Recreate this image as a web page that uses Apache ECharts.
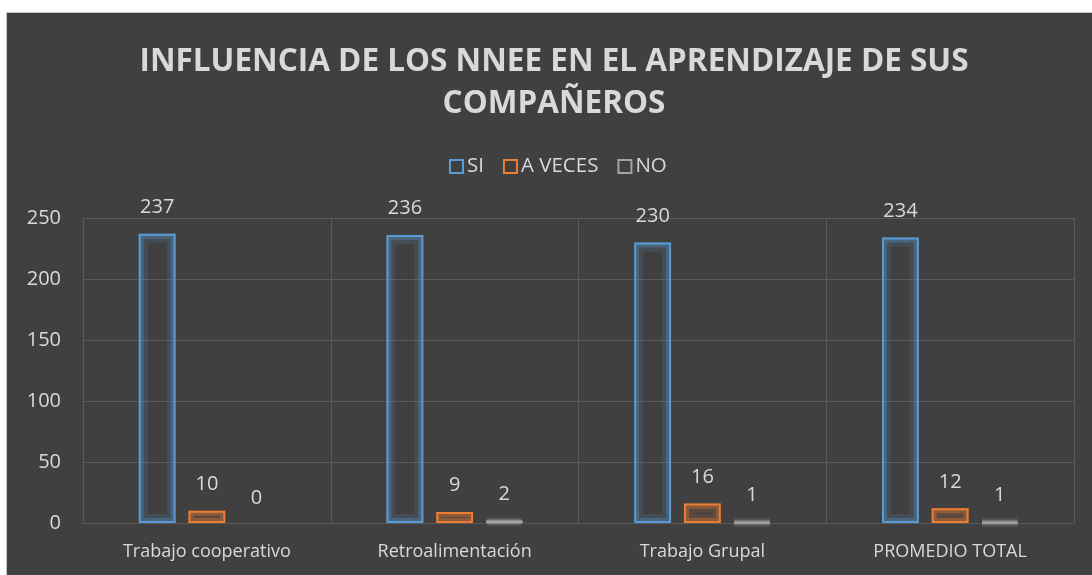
<!DOCTYPE html>
<html>
<head>
<meta charset="utf-8">
<script src="https://cdn.jsdelivr.net/npm/echarts@6/dist/echarts.min.js"></script>
<style>
  body { margin: 0; background: #fff; width: 1092px; height: 575px; overflow: hidden; }
  #frame { position: absolute; left: 6px; top: 12px; width: 1086px; height: 563px; background: #404040; border-left: 1px solid #c8c8c8; border-top: 1px solid #c8c8c8; box-sizing: border-box; }
  #chart { position: absolute; left: 7px; top: 13px; width: 1085px; height: 562px; }
</style>
</head>
<body>
<div id="frame"></div>
<div id="chart"></div>
<script>
var categories = ["Trabajo cooperativo", "Retroalimentación", "Trabajo Grupal", "PROMEDIO TOTAL"];
var siValues = [237, 236, 230, 234];
var aVecesValues = [10, 9, 16, 12];
var noValues = [0, 2, 1, 1];
var yTicks = { min: 0, max: 250, step: 50 };

var myChart = echarts.init(document.getElementById("chart"));

// value 0 -> nothing drawn, like the original
function toData(values) {
  return values.map(function (v) {
    return v === 0 ? { value: v, itemStyle: { borderWidth: 0 } } : v;
  });
}

function barSeries(name, values, color) {
  return {
    name: name,
    type: "bar",
    barGap: "35%",
    barCategoryGap: "45%",
    z: 4,
    data: toData(values),
    itemStyle: { color: "none", borderColor: color, borderWidth: 2 },
    label: {
      show: true,
      position: "top",
      distance: 15,
      color: "#d9d9d9",
      fontSize: 20,
      fontFamily: "Open Sans"
    }
  };
}

// soft glow around each outline, drawn on hidden twin axes
function glowSeries(name, values, rgb, axis, width, alpha) {
  return {
    name: name,
    type: "bar",
    xAxisIndex: axis,
    barGap: "35%",
    barCategoryGap: "45%",
    z: 4 - axis,
    silent: true,
    data: toData(values),
    itemStyle: {
      color: "none",
      borderColor: "rgba(" + rgb + "," + alpha + ")",
      borderWidth: width
    }
  };
}

var option = {
  backgroundColor: "transparent",
  animation: false,
  title: {
    text: "INFLUENCIA DE LOS NNEE EN EL APRENDIZAJE DE SUS\nCOMPAÑEROS",
    left: 542,
    top: 23,
    textAlign: "center",
    textStyle: {
      color: "#d9d9d9",
      fontSize: 31.5,
      fontWeight: "bold",
      fontFamily: "Open Sans",
      lineHeight: 42,
      align: "center"
    }
  },
  legend: {
    top: 138,
    left: 437,
    padding: 5,
    data: ["SI", "A VECES", "NO"],
    itemWidth: 13,
    itemHeight: 13,
    itemGap: 19,
    icon: "rect",
    textStyle: { color: "#d9d9d9", fontSize: 20.5, fontFamily: "Open Sans", padding: [0, 0, 0, -1] },
    itemStyle: { color: "transparent", borderWidth: 2 }
  },
  grid: { left: 76, right: 18, top: 205, bottom: 52 },
  xAxis: [
    {
      type: "category",
      data: categories,
      axisTick: { show: false },
      axisLine: { lineStyle: { color: "#595959" } },
      splitLine: { show: true, lineStyle: { color: "#595959" } },
      axisLabel: { color: "#d9d9d9", fontSize: 18, fontFamily: "Open Sans", margin: 20 }
    },
    { type: "category", data: categories, show: false },
    { type: "category", data: categories, show: false }
  ],
  yAxis: {
    type: "value",
    min: yTicks.min,
    max: yTicks.max,
    interval: yTicks.step,
    axisLine: { show: false },
    axisTick: { show: false },
    splitLine: { lineStyle: { color: "#595959" } },
    axisLabel: { color: "#d9d9d9", fontSize: 20, fontFamily: "Open Sans", margin: 22 }
  },
  series: [
    barSeries("SI", siValues, "#5b9bd5"),
    barSeries("A VECES", aVecesValues, "#ed7d31"),
    barSeries("NO", noValues, "#a5a5a5"),
    glowSeries("SI", siValues, "91,155,213", 1, 5, 0.3),
    glowSeries("A VECES", aVecesValues, "237,125,49", 1, 5, 0.34),
    glowSeries("NO", noValues, "200,200,200", 1, 5, 0.3),
    glowSeries("SI", siValues, "91,155,213", 2, 9, 0.14),
    glowSeries("A VECES", aVecesValues, "237,125,49", 2, 9, 0.16),
    glowSeries("NO", noValues, "200,200,200", 2, 9, 0.12)
  ]
};

myChart.setOption(option);
</script>
</body>
</html>
